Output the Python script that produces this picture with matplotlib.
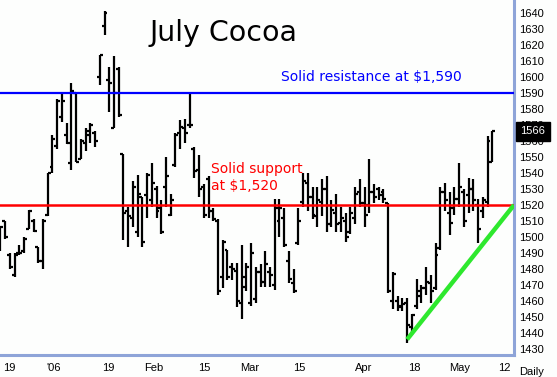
import numpy as np
import matplotlib.pyplot as plt
import matplotlib.transforms as mtransforms

# daily OHLC, July cocoa (one entry per trading day)
highs = [1507, 1510, 1490, 1490, 1495, 1500, 1517, 1511, 1494, 1511,
         1540, 1564, 1586, 1590, 1571, 1596, 1590, 1561, 1568, 1571,
         1566, 1614, 1641, 1606, 1613, 1606, 1552, 1519, 1535, 1539,
         1525, 1540, 1546, 1532, 1523, 1550, 1527, 1565, 1573, 1574,
         1590, 1556, 1551, 1533, 1538, 1518, 1511, 1498, 1492, 1484,
         1484, 1495, 1484, 1496, 1481, 1483, 1491, 1481, 1524, 1524,
         1518, 1491, 1480, 1518, 1540, 1540, 1531, 1531, 1536, 1538,
         1523, 1527, 1519, 1515, 1519, 1531, 1536, 1531, 1549, 1533,
         1531, 1530, 1521, 1478, 1463, 1462, 1462, 1452, 1474, 1470,
         1481, 1476, 1496, 1531, 1534, 1528, 1531, 1546, 1530, 1537,
         1536, 1524, 1525, 1563, 1566]
lows = [1491, 1499, 1480, 1475, 1489, 1490, 1505, 1503, 1484, 1480,
        1513, 1540, 1555, 1572, 1558, 1542, 1547, 1549, 1554, 1559,
        1556, 1595, 1626, 1578, 1568, 1575, 1498, 1494, 1506, 1500,
        1494, 1512, 1519, 1512, 1502, 1519, 1513, 1544, 1555, 1559,
        1568, 1537, 1525, 1512, 1512, 1510, 1464, 1468, 1473, 1473,
        1456, 1449, 1466, 1457, 1459, 1469, 1469, 1469, 1467, 1500,
        1494, 1471, 1465, 1495, 1519, 1516, 1511, 1506, 1513, 1503,
        1506, 1503, 1503, 1497, 1502, 1508, 1519, 1506, 1515, 1521,
        1523, 1521, 1465, 1455, 1454, 1454, 1434, 1439, 1455, 1459,
        1464, 1459, 1467, 1492, 1516, 1501, 1514, 1519, 1506, 1515,
        1516, 1496, 1512, 1519, 1547]
opens = [1498, 1510, 1489, 1476, 1490, 1491, 1505, 1510, 1494, 1485,
         1514, 1544, 1557, 1575, 1564, 1546, 1590, 1549, 1559, 1566,
         1565, 1600, 1632, 1598, 1568, 1605, 1552, 1516, 1512, 1503,
         1525, 1526, 1523, 1530, 1518, 1531, 1514, 1545, 1565, 1568,
         1570, 1555, 1542, 1531, 1536, 1516, 1510, 1475, 1492, 1481,
         1479, 1459, 1469, 1459, 1461, 1478, 1472, 1478, 1470, 1510,
         1512, 1485, 1471, 1496, 1522, 1534, 1525, 1513, 1522, 1530,
         1508, 1515, 1509, 1510, 1503, 1512, 1528, 1521, 1520, 1528,
         1530, 1528, 1521, 1460, 1460, 1456, 1459, 1444, 1457, 1463,
         1468, 1471, 1468, 1493, 1528, 1515, 1518, 1524, 1528, 1526,
         1530, 1520, 1516, 1522, 1547]
closes = [1506, 1500, 1481, 1489, 1490, 1499, 1516, 1504, 1485, 1510,
          1540, 1561, 1585, 1585, 1559, 1591, 1547, 1560, 1564, 1570,
          1560, 1614, 1640, 1596, 1590, 1576, 1515, 1513, 1531, 1527,
          1497, 1539, 1534, 1516, 1503, 1538, 1523, 1564, 1569, 1565,
          1570, 1541, 1530, 1514, 1516, 1511, 1466, 1497, 1475, 1480,
          1460, 1475, 1481, 1490, 1478, 1472, 1483, 1476, 1518, 1518,
          1495, 1474, 1466, 1510, 1535, 1525, 1514, 1523, 1530, 1508,
          1517, 1508, 1512, 1500, 1515, 1527, 1521, 1514, 1528, 1525,
          1526, 1524, 1466, 1477, 1457, 1458, 1445, 1451, 1466, 1468,
          1472, 1466, 1489, 1528, 1523, 1509, 1524, 1531, 1510, 1530,
          1523, 1505, 1523, 1560, 1566]

# where the date labels sit along the bar axis
date_pos = [1.9, 11.2, 22.9, 32.5, 43.0, 52.6, 63.1, 76.8, 87.6, 97.0, 106.6]
date_labels = ["19", "'06", "19", "Feb", "15", "Mar", "15", "Apr", "18", "May", "12"]

resistance = 1590
support = 1520
trend_x = [86, 108.6]
trend_y = [1436, 1520]
last_price = 1566

frame_col = '#8ea4d8'
axis_font = 'Liberation Sans'

fig = plt.figure(figsize=(5.57, 3.77), dpi=100)
fig.patch.set_facecolor('#fdfefd')
ax = fig.add_axes([0, 1 - 355 / 377, 514 / 557, 355 / 377])
ax.set_facecolor('#fdfefd')

x = np.arange(len(highs))
tk = 0.62
ax.vlines(x, lows, highs, color='black', lw=1.6, capstyle='butt', zorder=3)
ax.hlines(opens, x - tk, x, color='black', lw=1.6, zorder=3)
ax.hlines(closes, x, x + tk, color='black', lw=1.6, zorder=3)

ax.axhline(resistance, color='#0000ff', lw=1.6, zorder=4)
ax.axhline(support, color='#ff0000', lw=1.8, zorder=4)
ax.plot(trend_x, trend_y, color='#2ee82e', lw=3.2, solid_capstyle='butt', zorder=5)

ax.set_xlim(-0.1, 108.6)
ax.set_ylim(1426.25, 1648.1)

for s in ['top', 'left']:
    ax.spines[s].set_visible(False)
for s in ['right', 'bottom']:
    ax.spines[s].set_color(frame_col)
    ax.spines[s].set_linewidth(2.2)

ax.yaxis.tick_right()
ax.set_yticks(np.arange(1430, 1641, 10))
ax.tick_params(axis='y', length=0, pad=4, labelsize=8)
ax.set_xticks(date_pos)
ax.set_xticklabels(date_labels)
ax.tick_params(axis='x', length=0, pad=6, labelsize=8)
for lab in ax.get_xticklabels() + ax.get_yticklabels():
    lab.set_fontfamily(axis_font)

ax.text(1.01, -0.033, "Daily", transform=ax.transAxes, fontsize=8,
        family=axis_font, ha='left', va='top')

trans = mtransforms.blended_transform_factory(ax.transAxes, ax.transData)
ax.text(1.012, last_price, str(last_price), transform=trans, color='white',
        fontsize=8, family=axis_font, ha='left', va='center', clip_on=False,
        zorder=10, bbox=dict(facecolor='black', edgecolor='black', pad=3.4))

ax.text(0.434, 0.907, "July Cocoa", transform=ax.transAxes, fontsize=20.5,
        ha='center', va='center')
ax.text(281 / 514, resistance + 10, "Solid resistance at $1,590",
        transform=trans, color='#0000ff', fontsize=10, ha='left', va='center')
ax.text(211 / 514, support + 17, "Solid support\nat $1,520", transform=trans,
        color='#ff0000', fontsize=10, ha='left', va='center', linespacing=1.3)

fig.savefig('out.png', dpi=100, facecolor=fig.get_facecolor())
